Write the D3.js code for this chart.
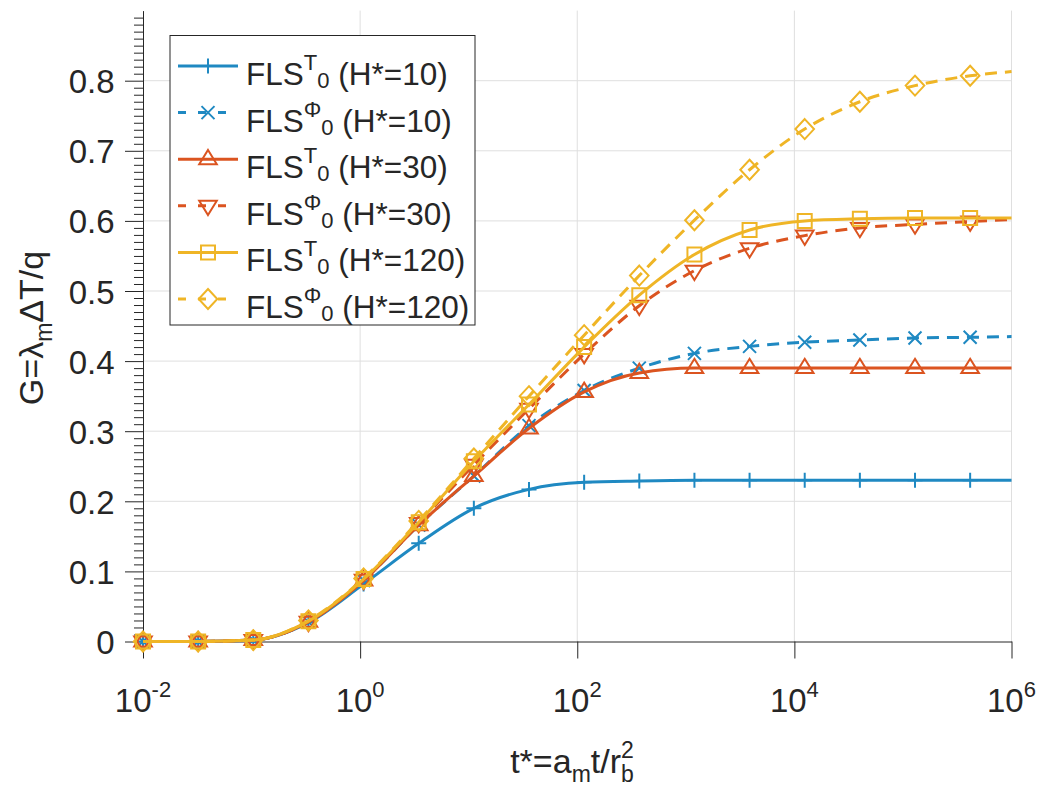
<!DOCTYPE html>
<html>
<head>
<meta charset="utf-8">
<script src="https://cdn.jsdelivr.net/npm/d3@7"></script>
<style>
  body { margin: 0; background: #fff; }
  svg { display: block; }
  text { font-family: "Liberation Sans", Arial, Helvetica, sans-serif; fill: #262626; }
</style>
</head>
<body>
<svg id="chart" width="1038" height="785"></svg>
<script>
// Dimensionless time t* at the sampled points (markers on the first 16, last one is the curve end)
const tStar = [0.01, 0.0322, 0.1037, 0.334, 1.0758, 3.4645, 11.158, 35.94, 115.75,
               372.8, 1200.6, 3866.9, 12454, 40111, 129155, 415960, 1e6];
const markerCount = 16;

// G-function values for each model / borehole length
const flsT_H10   = [0, 0, 0.002, 0.027, 0.082, 0.140, 0.190, 0.217, 0.227, 0.229, 0.230, 0.230, 0.230, 0.230, 0.230, 0.230, 0.230];
const flsPhi_H10 = [0, 0, 0.002, 0.028, 0.087, 0.166, 0.236, 0.308, 0.358, 0.390, 0.411, 0.421, 0.427, 0.430, 0.433, 0.434, 0.435];
const flsT_H30   = [0, 0, 0.002, 0.028, 0.087, 0.166, 0.236, 0.304, 0.356, 0.383, 0.390, 0.390, 0.390, 0.390, 0.390, 0.390, 0.390];
const flsPhi_H30 = [0, 0, 0.002, 0.028, 0.088, 0.169, 0.252, 0.332, 0.410, 0.479, 0.529, 0.561, 0.579, 0.590, 0.595, 0.599, 0.602];
const flsT_H120  = [0, 0, 0.002, 0.029, 0.089, 0.170, 0.257, 0.338, 0.420, 0.494, 0.552, 0.587, 0.600, 0.603, 0.604, 0.604, 0.604];
const flsPhi_H120= [0, 0, 0.002, 0.030, 0.090, 0.172, 0.261, 0.350, 0.437, 0.522, 0.601, 0.673, 0.731, 0.770, 0.793, 0.807, 0.813];

const seriesSup    = ["T", "\u03A6", "T", "\u03A6", "T", "\u03A6"];
const seriesH      = ["H*=10", "H*=10", "H*=30", "H*=30", "H*=120", "H*=120"];
const seriesValues = [flsT_H10, flsPhi_H10, flsT_H30, flsPhi_H30, flsT_H120, flsPhi_H120];
const seriesColor  = ["#1f89c2", "#1f89c2", "#db5420", "#db5420", "#efb526", "#efb526"];
const seriesDashed = [false, true, false, true, false, true];
const seriesMarker = ["plus", "cross", "triUp", "triDown", "square", "diamond"];

const xTicks = [1e-2, 1e0, 1e2, 1e4, 1e6];
const xTickExp = ["-2", "0", "2", "4", "6"];
const yTicks = [0, 0.1, 0.2, 0.3, 0.4, 0.5, 0.6, 0.7, 0.8];
const yTickLabels = ["0", "0.1", "0.2", "0.3", "0.4", "0.5", "0.6", "0.7", "0.8"];

const svg = d3.select("#chart");
const x = d3.scaleLog().domain([1e-2, 1e6]).range([143, 1011.5]);
const y = d3.scaleLinear().domain([0, 0.9]).range([641.5, 10.6]);
const axisColor = "#262626";

// grid
const grid = svg.append("g").attr("stroke", "#dfdfdf").attr("stroke-width", 1);
grid.selectAll("line.gv").data(xTicks.slice(1)).join("line").attr("class", "gv")
  .attr("x1", d => x(d)).attr("x2", d => x(d)).attr("y1", y(0)).attr("y2", y(0.9));
grid.selectAll("line.gh").data(yTicks.slice(1)).join("line").attr("class", "gh")
  .attr("x1", x(1e-2)).attr("x2", x(1e6)).attr("y1", d => y(d)).attr("y2", d => y(d));

// axes
svg.append("g").attr("transform", `translate(0,${y(0)})`)
  .style("color", axisColor)
  .call(d3.axisBottom(x).tickValues(xTicks).tickSize(17).tickSizeOuter(0).tickFormat(""));
svg.append("g").attr("transform", `translate(${x(1e-2)},0)`)
  .style("color", axisColor)
  .call(d3.axisLeft(y).tickValues(yTicks).tickSize(18).tickSizeOuter(0).tickFormat(""));
const minor = d3.range(1, 90).map(i => i / 100).filter(v => Math.round(v * 100) % 10 !== 0);
svg.append("g").attr("transform", `translate(${x(1e-2)},0)`)
  .style("color", axisColor)
  .call(d3.axisLeft(y).tickValues(minor).tickSize(9).tickSizeOuter(0).tickFormat(""))
  .call(g => g.select(".domain").remove());
svg.selectAll(".domain, .tick line").attr("stroke-width", 1);

// tick labels
const xl = svg.append("g").selectAll("text").data(xTicks).join("text")
  .attr("x", d => x(d)).attr("y", 712).attr("text-anchor", "middle").attr("font-size", 33);
xl.append("tspan").text("10");
xl.append("tspan").attr("font-size", 22).attr("dy", -15).text((d, i) => xTickExp[i]);

svg.append("g").selectAll("text").data(yTicks).join("text")
  .attr("x", 114.5).attr("y", d => y(d) + 12.5).attr("text-anchor", "end").attr("font-size", 33)
  .text((d, i) => yTickLabels[i]);

// axis titles
const xt = svg.append("text").attr("x", 572).attr("y", 772.5).attr("text-anchor", "middle").attr("font-size", 34);
xt.append("tspan").text("t*=a");
xt.append("tspan").attr("font-size", 23).attr("dy", 9).text("m");
xt.append("tspan").attr("dy", -9).text("t/r");
xt.append("tspan").attr("font-size", 23).attr("dy", 9).text("b");
xt.append("tspan").attr("font-size", 23).attr("dx", -12.8).attr("dy", -24).text("2");

const yt = svg.append("text").attr("transform", "translate(43,328) rotate(-90)")
  .attr("text-anchor", "middle").attr("font-size", 34);
yt.append("tspan").text("G=\u03BB");
yt.append("tspan").attr("font-size", 23).attr("dy", 9).text("m");
yt.append("tspan").attr("dy", -9).text("\u0394T/q");

// marker shapes
function drawMarker(g, type, color) {
  const s = g.attr("fill", "none").attr("stroke", color).attr("stroke-width", 2);
  const paths = {
    plus: "M-7.5,0H7.5M0,-7.5V7.5",
    cross: "M-6.5,-6.5L6.5,6.5M-6.5,6.5L6.5,-6.5",
    triUp: "M0,-9.3L8.8,5L-8.8,5Z",
    triDown: "M0,9.3L8.8,-5L-8.8,-5Z",
    square: "M-7,-7H7V7H-7Z",
    diamond: "M0,-10L9.3,0L0,10L-9.3,0Z"
  };
  s.append("path").attr("d", paths[type]).attr("stroke-linejoin", "miter");
}

// curves and markers
const line = d3.line().x((d, i) => x(tStar[i])).y(d => y(d)).curve(d3.curveMonotoneX);
const plot = svg.append("g");
seriesValues.forEach((vals, s) => {
  const g = plot.append("g");
  g.append("path").attr("d", line(vals)).attr("fill", "none")
    .attr("stroke", seriesColor[s]).attr("stroke-width", 3)
    .attr("stroke-dasharray", seriesDashed[s] ? "12,8" : null);
  vals.slice(0, markerCount).forEach((v, i) => {
    drawMarker(g.append("g").attr("transform", `translate(${x(tStar[i])},${y(v)})`), seriesMarker[s], seriesColor[s]);
  });
});

// legend
const lg = svg.append("g");
lg.append("rect").attr("x", 170).attr("y", 35.5).attr("width", 305).attr("height", 289.5)
  .attr("fill", "#fff").attr("stroke", axisColor).attr("stroke-width", 1);
seriesValues.forEach((vals, s) => {
  const cy = 66 + s * 46.6;
  const row = lg.append("g");
  row.append("line").attr("x1", 178).attr("x2", 238).attr("y1", cy).attr("y2", cy)
    .attr("stroke", seriesColor[s]).attr("stroke-width", 3)
    .attr("stroke-dasharray", seriesDashed[s] ? "8,12" : null);
  drawMarker(row.append("g").attr("transform", `translate(208,${cy})`), seriesMarker[s], seriesColor[s]);
  const t = row.append("text").attr("x", 246).attr("y", cy + 19).attr("font-size", 31.5);
  t.append("tspan").text("FLS");
  t.append("tspan").attr("font-size", 22).attr("dy", -15).text(seriesSup[s]);
  t.append("tspan").attr("font-size", 22).attr("dy", 18).text("0");
  t.append("tspan").attr("dy", -3).text(" (" + seriesH[s] + ")");
});
</script>
</body>
</html>
